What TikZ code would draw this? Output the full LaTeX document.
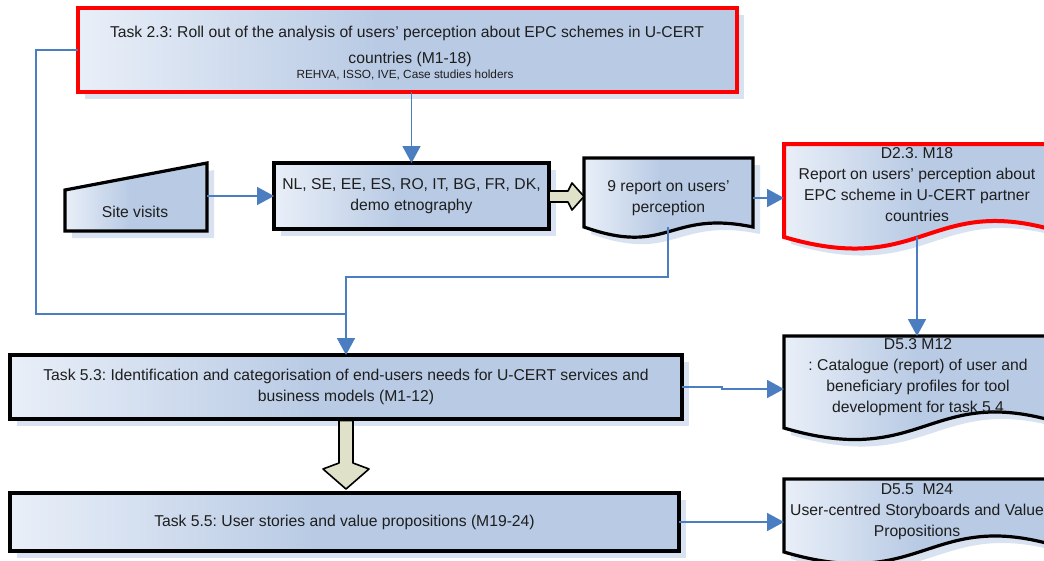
\documentclass[tikz,border=0pt]{standalone}
\usepackage{fontspec}
\setmainfont{Liberation Sans}
\usetikzlibrary{arrows.meta,shadows}

\definecolor{boxlight}{HTML}{E9EFF8}
\definecolor{boxdark}{HTML}{B8CAE4}
\definecolor{shadowc}{HTML}{D8E2F0}
\definecolor{linkblue}{HTML}{4A7EC0}
\definecolor{fatfill}{HTML}{DFE2C9}
\definecolor{redline}{HTML}{FF0000}
\definecolor{textc}{HTML}{1E1E1E}

% light-to-dark horizontal gradient used by every block
\pgfdeclarehorizontalshading{boxgrad}{100bp}{color(0bp)=(boxlight); color(25bp)=(boxlight); color(48bp)=(boxdark); color(100bp)=(boxdark)}

\tikzset{
  shad/.style={drop shadow={shadow xshift=7pt, shadow yshift=-7pt, fill=shadowc, opacity=1}},
  blackframe/.style={shad, draw=black, line width=3.2pt, shading=boxgrad, line join=miter},
  redframe/.style={shad, draw=redline, line width=4pt, shading=boxgrad, line join=miter},
  link/.style={draw=linkblue, line width=1.8pt},
  conn/.style={link, -{Triangle[length=17pt,width=18pt]}},
  fat/.style={draw=black, line width=1.6pt, fill=fatfill, line join=round},
  txt/.style={font=\fontsize{15.7}{21}\selectfont, text=textc, align=center, inner sep=0pt},
  small/.style={font=\fontsize{11.8}{13}\selectfont, text=textc, inner sep=0pt},
  boxnode/.style 2 args={inner sep=0pt, outer sep=0pt, minimum width=#1, minimum height=#2},
}

\begin{document}
\frenchspacing
\begin{tikzpicture}[x=1pt, y=-1pt]
\useasboundingbox (0,0) rectangle (1044,560);
\clip (0,0) rectangle (1044,560);

% ---- Task 2.3 ----
\node[redframe, boxnode={659pt}{84pt}] (t23) at (407.5,50) {};
\node[txt] (t23a) at (407,33) {Task 2.3: Roll out of the analysis of users' perception about EPC schemes in U-CERT};
\node[txt] (t23b) at (410,59) {countries (M1-18)};
\node[small] (t23c) at (405,75) {REHVA, ISSO, IVE, Case studies holders};

% ---- Site visits (manual input) ----
\path[blackframe] (65,190) -- (207,163) -- (207,231) -- (65,231) -- cycle;
\node[txt] (site) at (135,212) {Site visits};
\coordinate (sitee) at (207,196);

% ---- country demo box ----
\node[blackframe, boxnode={275pt}{66pt}, txt] (nl) at (411.5,196) {NL, SE, EE, ES, RO, IT, BG, FR, DK,\\demo etnography};

% ---- 9 reports (document) ----
\path[blackframe] (584,158) -- (753,158) -- (753,227)
  .. controls (668.5,209.5) and (668.5,257) .. (584,227) -- cycle;
\node[txt, boxnode={169pt}{80pt}] (rep) at (668.5,198) {9 report on users'\\perception};
\coordinate (repb) at (668,227);

% ---- D2.3 (document) ----
\path[redframe] (784,144) -- (1075,144) -- (1075,237)
  .. controls (929.5,185) and (929.5,280) .. (784,237) -- cycle;
\node[txt] (d23) at (917,185) {D2.3. M18\\Report on users' perception about\\EPC scheme in U-CERT partner\\countries};
\coordinate (d23w) at (784,198);
\coordinate (d23b) at (917,237);

% ---- Task 5.3 ----
\node[blackframe, boxnode={672pt}{64pt}, txt] (t53) at (346,387) {Task 5.3: Identification and categorisation of end-users needs for U-CERT services and\\business models (M1-12)};

% ---- D5.3 (document) ----
\path[blackframe] (784,336) -- (1075,336) -- (1075,428)
  .. controls (929.5,376) and (929.5,471) .. (784,428) -- cycle;
\node[txt] (d53) at (918,377) {D5.3 M12\\: Catalogue (report) of user and\\beneficiary profiles for tool\\development for task 5.4};
\coordinate (d53n) at (917,336);
\coordinate (d53w) at (784,389);

% ---- Task 5.5 ----
\node[blackframe, boxnode={669pt}{58pt}, txt] (t55) at (344.5,522) {Task 5.5: User stories and value propositions (M19-24)};

% ---- D5.5 (document) ----
\path[blackframe] (784,479) -- (1075,479) -- (1075,552)
  .. controls (929.5,500) and (929.5,595) .. (784,552) -- cycle;
\node[txt] (d55) at (917,511.5) {D5.5\ \ M24\\User-centred Storyboards and Value\\Propositions};
\coordinate (d55w) at (784,522);

% ---- block arrows ----
\path[fat] (549,191) -- (568,191) -- (572,183) -- (584,196.5) -- (572,210) -- (568,202) -- (549,202) -- cycle;
\path[fat] (339,420.5) -- (339,463) -- (323,469) -- (346,489) -- (369,469) -- (353,463) -- (353,420.5) -- cycle;

% ---- connectors ----
\coordinate (join) at (346,314);
\draw[link] (t23.west) -- ++(-42,0) |- (join);
\draw[link] (repb) |- (346,277) -- (join);
\draw[conn] (join) -- (t53.north);
\draw[conn] (nl.north |- t23.south) -- (nl.north);
\draw[conn] (sitee) -- (nl.west);
\draw[conn] (rep.east) -- (d23w);
\draw[conn] (d23b) -- (d53n);
\draw[conn] (t53.east) -- ++(40,0) -- ++(0,2) -- (d53w);
\draw[conn] (t55.east) -- (d55w);
\end{tikzpicture}
\end{document}
